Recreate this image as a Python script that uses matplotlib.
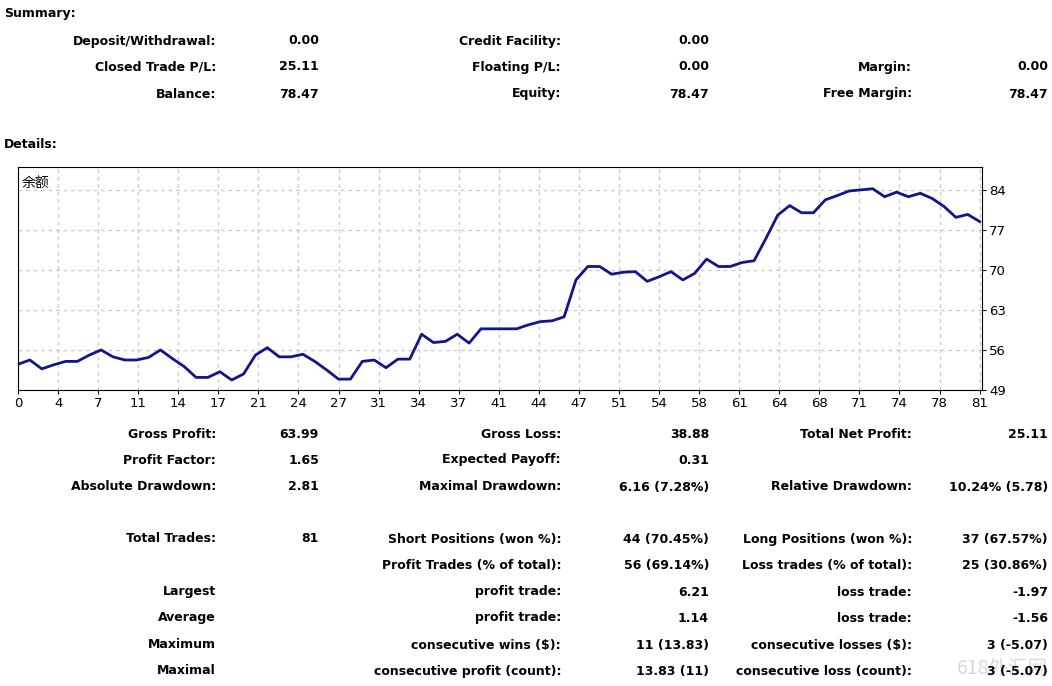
import matplotlib
matplotlib.use("Agg")
import matplotlib.pyplot as plt

balance = [53.5, 54.25, 52.7, 53.4, 54.0, 54.0, 55.1, 56.0, 54.8, 54.25,
           54.25, 54.7, 56.0, 54.5, 53.1, 51.2, 51.2, 52.2, 50.75, 51.8,
           55.1, 56.4, 54.8, 54.8, 55.25, 54.0, 52.5, 50.9, 50.9, 54.0,
           54.25, 52.9, 54.4, 54.4, 58.75, 57.3, 57.5, 58.75, 57.2, 59.7,
           59.7, 59.7, 59.7, 60.4, 60.95, 61.1, 61.8, 68.25, 70.6, 70.6,
           69.25, 69.6, 69.7, 68.0, 68.8, 69.7, 68.25, 69.4, 71.9, 70.6,
           70.6, 71.3, 71.6, 75.5, 79.6, 81.25, 80.0, 80.0, 82.25, 83.0,
           83.8, 84.0, 84.2, 82.8, 83.6, 82.8, 83.4, 82.5, 81.1, 79.2,
           79.7, 78.47]
x_labels = [0, 4, 7, 11, 14, 17, 21, 24, 27, 31, 34, 37, 41, 44, 47, 51,
            54, 58, 61, 64, 68, 71, 74, 78, 81]
y_ticks = [49, 56, 63, 70, 77, 84]

summary_rows = [
    [("Deposit/Withdrawal:", "0.00"), ("Credit Facility:", "0.00"), None],
    [("Closed Trade P/L:", "25.11"), ("Floating P/L:", "0.00"), ("Margin:", "0.00")],
    [("Balance:", "78.47"), ("Equity:", "78.47"), ("Free Margin:", "78.47")],
]
detail_rows = [
    (434, [("Gross Profit:", "63.99"), ("Gross Loss:", "38.88"), ("Total Net Profit:", "25.11")]),
    (460, [("Profit Factor:", "1.65"), ("Expected Payoff:", "0.31"), None]),
    (487, [("Absolute Drawdown:", "2.81"), ("Maximal Drawdown:", "6.16 (7.28%)"),
           ("Relative Drawdown:", "10.24% (5.78)")]),
    (539, [("Total Trades:", "81"), ("Short Positions (won %):", "44 (70.45%)"),
           ("Long Positions (won %):", "37 (67.57%)")]),
    (565, [None, ("Profit Trades (% of total):", "56 (69.14%)"),
           ("Loss trades (% of total):", "25 (30.86%)")]),
    (592, [("Largest", ""), ("profit trade:", "6.21"), ("loss trade:", "-1.97")]),
    (618, [("Average", ""), ("profit trade:", "1.14"), ("loss trade:", "-1.56")]),
    (645, [("Maximum", ""), ("consecutive wins ($):", "11 (13.83)"),
           ("consecutive losses ($):", "3 (-5.07)")]),
    (671, [("Maximal", ""), ("consecutive profit (count):", "13.83 (11)"),
           ("consecutive loss (count):", "3 (-5.07)")]),
]

W, H = 1052, 686
fig = plt.figure(figsize=(W / 100, H / 100), dpi=100)
col_x = [(216, 319), (561, 709), (912, 1048)]


def put(px, py, s, ha="right", **kw):
    fig.text(px / W, 1 - py / H, s, ha=ha, va="center", fontsize=9,
             fontweight="bold", **kw)


def put_row(py, items):
    for (lx, vx), item in zip(col_x, items):
        if item is None:
            continue
        put(lx, py, item[0])
        if item[1]:
            put(vx, py, item[1])


put(4, 14, "Summary:", ha="left")
for py, row in zip([41, 67, 94], summary_rows):
    put_row(py, row)
put(4, 145, "Details:", ha="left")
for py, row in detail_rows:
    put_row(py, row)

# balance chart
ax = fig.add_axes([18 / W, 1 - 390 / H, (982 - 18) / W, (390 - 167) / H])
xs = list(range(len(balance)))
ax.plot(xs, balance, color="#14148c", lw=2)
ax.set_xlim(0, 81.2)
ax.set_ylim(49, 88)
ax.set_xticks([k * 81 / 24 for k in range(len(x_labels))])
ax.set_xticklabels([str(v) for v in x_labels])
ax.set_yticks(y_ticks)
ax.yaxis.tick_right()
ax.tick_params(labelsize=9.5, length=3, pad=2)
ax.grid(True, color="#c8c8c8", ls=(0, (3, 3)), lw=0.9)
ax.text(0.004, 0.96, "余额", transform=ax.transAxes, ha="left", va="top",
        fontsize=10, family=["Noto Sans CJK SC", "DejaVu Sans"])

fig.text(1048 / W, 1 - 668 / H, "618外汇网", ha="right", va="center", fontsize=14,
         color="#d8d8d8", zorder=-1, family=["Noto Sans CJK SC", "DejaVu Sans"])

fig.savefig("out.png", dpi=100)
